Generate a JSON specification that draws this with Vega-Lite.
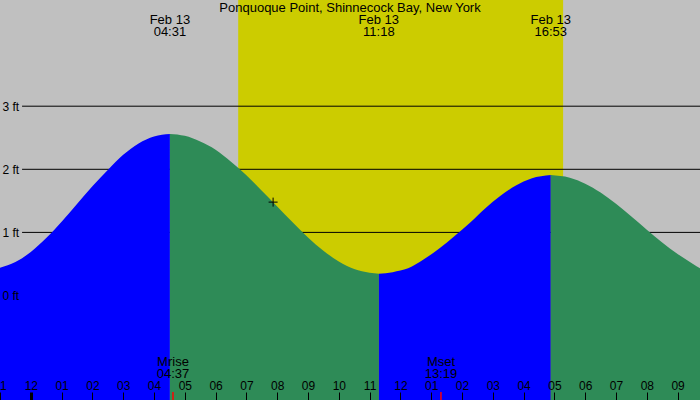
{
  "$schema": "https://vega.github.io/schema/vega-lite/v6.json",
  "description": "Tide chart, Ponquoque Point",
  "width": 700,
  "height": 400,
  "autosize": {"type": "none"},
  "padding": 0,
  "background": "#c0c0c0",
  "title": {
    "text": "Ponquoque Point, Shinnecock Bay, New York",
    "anchor": "middle",
    "frame": "group",
    "offset": -24.5,
    "baseline": "alphabetic",
    "font": "Liberation Sans",
    "fontSize": 13,
    "fontWeight": "normal",
    "color": "black"
  },
  "config": {
    "font": "Liberation Sans",
    "view": {"stroke": null, "fill": "#c0c0c0"}
  },
  "datasets": {
    "tide": [
      {"t": "2000-02-12T23:00", "h": 0.44, "seg": 1, "dir": "rise"},
      {"t": "2000-02-12T23:30", "h": 0.53, "seg": 1, "dir": "rise"},
      {"t": "2000-02-13T00:00", "h": 0.69, "seg": 1, "dir": "rise"},
      {"t": "2000-02-13T00:30", "h": 0.91, "seg": 1, "dir": "rise"},
      {"t": "2000-02-13T01:00", "h": 1.17, "seg": 1, "dir": "rise"},
      {"t": "2000-02-13T01:30", "h": 1.45, "seg": 1, "dir": "rise"},
      {"t": "2000-02-13T02:00", "h": 1.73, "seg": 1, "dir": "rise"},
      {"t": "2000-02-13T02:30", "h": 1.99, "seg": 1, "dir": "rise"},
      {"t": "2000-02-13T03:00", "h": 2.23, "seg": 1, "dir": "rise"},
      {"t": "2000-02-13T03:30", "h": 2.41, "seg": 1, "dir": "rise"},
      {"t": "2000-02-13T04:00", "h": 2.52, "seg": 1, "dir": "rise"},
      {"t": "2000-02-13T04:31", "h": 2.56, "seg": 1, "dir": "rise"},
      {"t": "2000-02-13T04:31", "h": 2.56, "seg": 2, "dir": "fall"},
      {"t": "2000-02-13T05:00", "h": 2.53, "seg": 2, "dir": "fall"},
      {"t": "2000-02-13T05:30", "h": 2.44, "seg": 2, "dir": "fall"},
      {"t": "2000-02-13T06:00", "h": 2.31, "seg": 2, "dir": "fall"},
      {"t": "2000-02-13T06:30", "h": 2.12, "seg": 2, "dir": "fall"},
      {"t": "2000-02-13T07:00", "h": 1.905, "seg": 2, "dir": "fall"},
      {"t": "2000-02-13T07:30", "h": 1.66, "seg": 2, "dir": "fall"},
      {"t": "2000-02-13T08:00", "h": 1.41, "seg": 2, "dir": "fall"},
      {"t": "2000-02-13T08:30", "h": 1.16, "seg": 2, "dir": "fall"},
      {"t": "2000-02-13T09:00", "h": 0.92, "seg": 2, "dir": "fall"},
      {"t": "2000-02-13T09:30", "h": 0.71, "seg": 2, "dir": "fall"},
      {"t": "2000-02-13T10:00", "h": 0.54, "seg": 2, "dir": "fall"},
      {"t": "2000-02-13T10:30", "h": 0.42, "seg": 2, "dir": "fall"},
      {"t": "2000-02-13T11:00", "h": 0.36, "seg": 2, "dir": "fall"},
      {"t": "2000-02-13T11:18", "h": 0.345, "seg": 2, "dir": "fall"},
      {"t": "2000-02-13T11:18", "h": 0.345, "seg": 3, "dir": "rise"},
      {"t": "2000-02-13T11:45", "h": 0.37, "seg": 3, "dir": "rise"},
      {"t": "2000-02-13T12:15", "h": 0.43, "seg": 3, "dir": "rise"},
      {"t": "2000-02-13T12:45", "h": 0.57, "seg": 3, "dir": "rise"},
      {"t": "2000-02-13T13:15", "h": 0.74, "seg": 3, "dir": "rise"},
      {"t": "2000-02-13T13:45", "h": 0.94, "seg": 3, "dir": "rise"},
      {"t": "2000-02-13T14:15", "h": 1.15, "seg": 3, "dir": "rise"},
      {"t": "2000-02-13T14:45", "h": 1.38, "seg": 3, "dir": "rise"},
      {"t": "2000-02-13T15:15", "h": 1.58, "seg": 3, "dir": "rise"},
      {"t": "2000-02-13T15:45", "h": 1.745, "seg": 3, "dir": "rise"},
      {"t": "2000-02-13T16:15", "h": 1.855, "seg": 3, "dir": "rise"},
      {"t": "2000-02-13T16:53", "h": 1.91, "seg": 3, "dir": "rise"},
      {"t": "2000-02-13T16:53", "h": 1.91, "seg": 4, "dir": "fall"},
      {"t": "2000-02-13T17:30", "h": 1.867, "seg": 4, "dir": "fall"},
      {"t": "2000-02-13T18:00", "h": 1.773, "seg": 4, "dir": "fall"},
      {"t": "2000-02-13T18:30", "h": 1.632, "seg": 4, "dir": "fall"},
      {"t": "2000-02-13T19:00", "h": 1.454, "seg": 4, "dir": "fall"},
      {"t": "2000-02-13T19:30", "h": 1.252, "seg": 4, "dir": "fall"},
      {"t": "2000-02-13T20:00", "h": 1.043, "seg": 4, "dir": "fall"},
      {"t": "2000-02-13T20:30", "h": 0.84, "seg": 4, "dir": "fall"},
      {"t": "2000-02-13T21:00", "h": 0.657, "seg": 4, "dir": "fall"},
      {"t": "2000-02-13T21:30", "h": 0.5, "seg": 4, "dir": "fall"},
      {"t": "2000-02-13T21:44", "h": 0.43, "seg": 4, "dir": "fall"}
    ],
    "day": [
      {"sunrise": "2000-02-13T06:44", "sunset": "2000-02-13T17:17"}
    ],
    "levels": [
      {"lvl": 1}, {"lvl": 2}, {"lvl": 3}
    ],
    "extremes": [
      {"t": "2000-02-13T04:31", "lbl": ["Feb 13", "04:31"]},
      {"t": "2000-02-13T11:18", "lbl": ["Feb 13", "11:18"]},
      {"t": "2000-02-13T16:53", "lbl": ["Feb 13", "16:53"]}
    ],
    "moon": [
      {"t": "2000-02-13T04:37", "lbl": ["Mrise", "04:37"]},
      {"t": "2000-02-13T13:19", "lbl": ["Mset", "13:19"]}
    ],
    "now": [
      {"t": "2000-02-13T07:52", "h": 1.48}
    ]
  },
  "layer": [
    {
      "data": {"name": "day"},
      "mark": {"type": "rect", "color": "#cccc00"},
      "encoding": {
        "x": {"field": "sunrise", "type": "temporal"},
        "x2": {"field": "sunset"}
      }
    },
    {
      "data": {"name": "levels"},
      "mark": {"type": "rule", "color": "black", "strokeWidth": 1},
      "encoding": {
        "y": {"field": "lvl", "type": "quantitative"},
        "x": {"datum": {"year": 2000, "month": 2, "date": 12, "hours": 23, "minutes": 43}, "type": "temporal"},
        "x2": {"datum": {"year": 2000, "month": 2, "date": 13, "hours": 21, "minutes": 44}}
      }
    },
    {
      "data": {"name": "tide"},
      "mark": {"type": "area", "interpolate": "monotone", "clip": true},
      "encoding": {
        "x": {
          "field": "t",
          "type": "temporal",
          "scale": {"domain": [
            {"year": 2000, "month": 2, "date": 12, "hours": 23, "minutes": 0},
            {"year": 2000, "month": 2, "date": 13, "hours": 21, "minutes": 43, "seconds": 38}
          ]},
          "axis": {
            "orient": "bottom",
            "offset": -8,
            "title": null,
            "domain": false,
            "grid": false,
            "tickSize": 8,
            "tickColor": "black",
            "tickWidth": {"condition": {"test": "hours(datum.value) == 0", "value": 3}, "value": 1},
            "tickCount": 24,
            "format": "%I",
            "labelPadding": -10.7,
            "labelBaseline": "alphabetic",
            "labelFontSize": 12,
            "labelColor": "black",
            "labelOverlap": false,
            "labelFlush": false,
            "zindex": 1
          }
        },
        "y": {
          "field": "h",
          "type": "quantitative",
          "scale": {"domain": [-1.656, 4.683], "nice": false, "zero": false},
          "axis": {
            "orient": "left",
            "title": null,
            "values": [0, 1, 2, 3],
            "domain": false,
            "ticks": false,
            "grid": false,
            "labelAlign": "left",
            "labelBaseline": "middle",
            "labelPadding": -2,
            "labelExpr": "datum.value + ' ft'",
            "labelFontSize": 12,
            "labelColor": "black",
            "zindex": 1
          }
        },
        "y2": {"datum": -1.7},
        "detail": {"field": "seg"},
        "color": {
          "field": "dir",
          "type": "nominal",
          "scale": {"domain": ["rise", "fall"], "range": ["#0000ff", "#2e8b57"]},
          "legend": null
        }
      }
    },
    {
      "data": {"name": "now"},
      "mark": {"type": "point", "shape": "M-1,0H1M0,-1V1", "size": 81, "filled": false, "stroke": "black", "strokeWidth": 1, "opacity": 1},
      "encoding": {
        "x": {"field": "t", "type": "temporal"},
        "y": {"field": "h", "type": "quantitative"}
      }
    },
    {
      "data": {"name": "moon"},
      "mark": {"type": "rule", "color": "red", "strokeWidth": 1.5},
      "encoding": {
        "x": {"field": "t", "type": "temporal"},
        "y": {"datum": -1.7},
        "y2": {"datum": -1.529}
      }
    },
    {
      "data": {"name": "moon"},
      "mark": {"type": "text", "align": "center", "baseline": "top", "fontSize": 13, "lineHeight": 11.7, "color": "black"},
      "encoding": {
        "x": {"field": "t", "type": "temporal"},
        "y": {"datum": -0.965},
        "text": {"field": "lbl"}
      }
    },
    {
      "data": {"name": "extremes"},
      "mark": {"type": "text", "align": "center", "baseline": "top", "fontSize": 13, "lineHeight": 12, "color": "black"},
      "encoding": {
        "x": {"field": "t", "type": "temporal"},
        "y": {"datum": 4.458},
        "text": {"field": "lbl"}
      }
    }
  ]
}
